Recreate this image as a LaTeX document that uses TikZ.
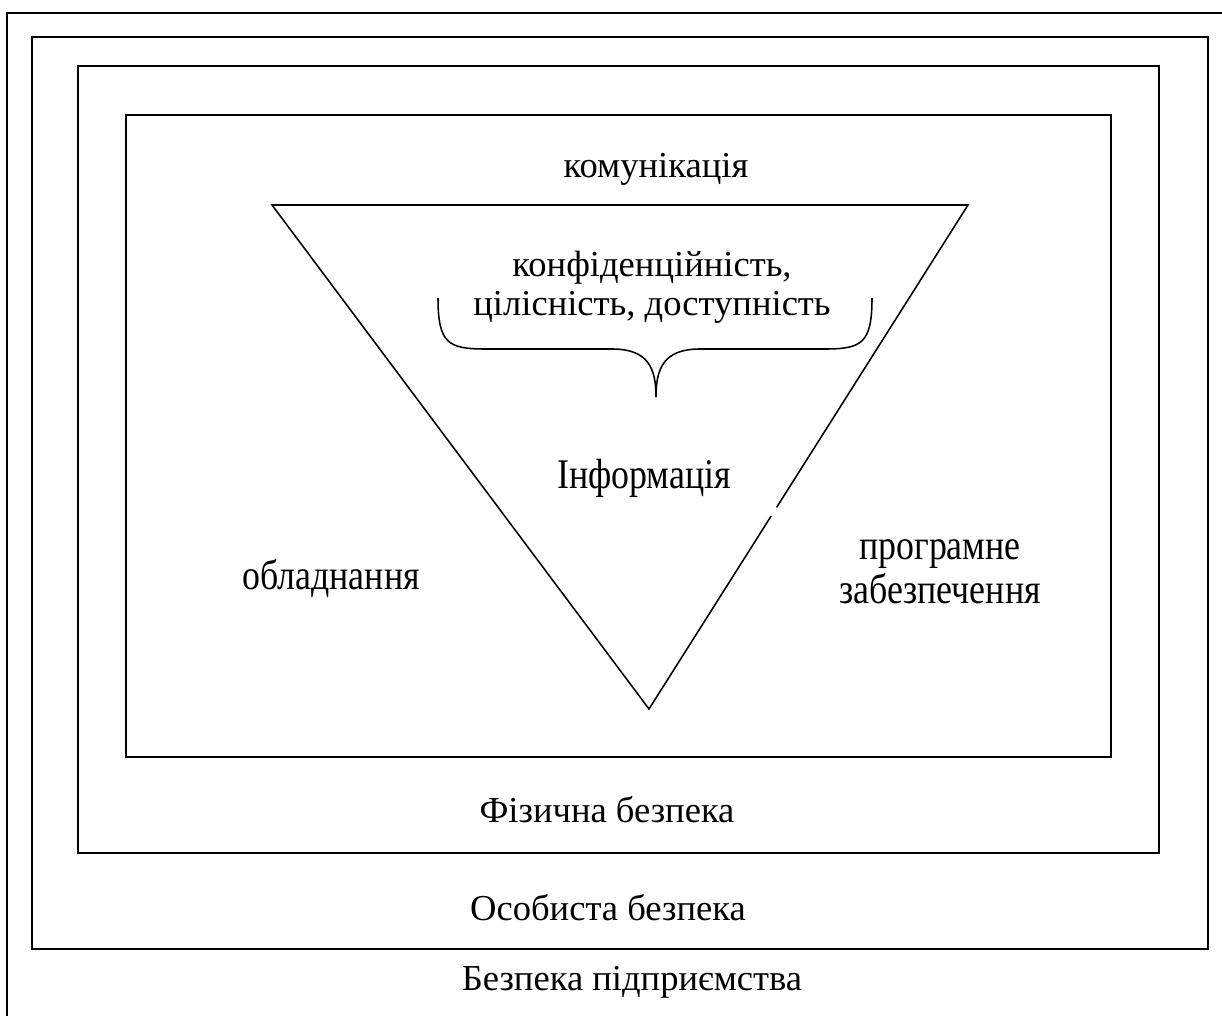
\documentclass[tikz,border=0pt]{standalone}
\usepackage{fontspec}
\setmainfont{Liberation Serif}
\newfontfamily\narrowfont[FakeStretch=0.85]{Liberation Serif}
\usetikzlibrary{calc}

\begin{document}
\begin{tikzpicture}[x=0.025cm, y=-0.025cm,
        frame/.style={draw, line width=1.3pt},
        edge/.style={draw, line width=1.1pt, line join=miter},
        lbl/.style={font=\fontsize{26}{31}\selectfont, align=center, inner sep=0pt, anchor=base},
        tall/.style={font=\narrowfont\fontsize{30}{31}\selectfont, align=center, inner sep=0pt}
    ]
    \useasboundingbox (0,0) rectangle (1222,1016);
    % nested frames
    \begin{scope}
        \clip (0,0) rectangle (1222,1016);
        \draw[frame] (7,13) rectangle (1240,1030);
    \end{scope}
    \draw[frame] (32,37) rectangle (1208,949);
    \draw[frame] (78,66) rectangle (1159,853);
    \draw[frame] (126,115) rectangle (1111,757);

    % triangle
    \coordinate (tl) at (272,205);
    \coordinate (tr) at (968,205);
    \coordinate (bt) at (649,709);
    \draw[edge] ($(bt)!0.383!(tr)$) -- (bt) -- (tl) -- (tr) -- ($(bt)!0.40!(tr)$);

    % brace
    \coordinate (bl) at (438,298);
    \coordinate (br) at (872,298);
    \coordinate (tip) at (656,397);
    \draw[edge] (bl) .. controls (438,343) and (448,349) .. (485,349) -- (612,349)
        .. controls (648,349) and (656,368) .. (tip);
    \draw[edge] (br) .. controls (872,343) and (862,349) .. (825,349) -- (700,349)
        .. controls (664,349) and (656,368) .. (tip);

    % labels
    \node[lbl] (comm) at (656,178) {комунікація};
    \node[lbl] (cia1) at (652,277) {конфіденційність,};
    \node[lbl] (cia2) at (652,316) {цілісність, доступність};
    \node[tall] (info) at (644,478) {Інформація};
    \node[tall] (hw) at (331,578) {обладнання};
    \node[tall] (sw) at (940,572) {програмне\\забезпечення};
    \node[lbl] (phys) at (607,822) {Фізична безпека};
    \node[lbl] (pers) at (608,920) {Особиста безпека};
    \node[lbl] (corp) at (632,990) {Безпека підприємства};
\end{tikzpicture}
\end{document}
